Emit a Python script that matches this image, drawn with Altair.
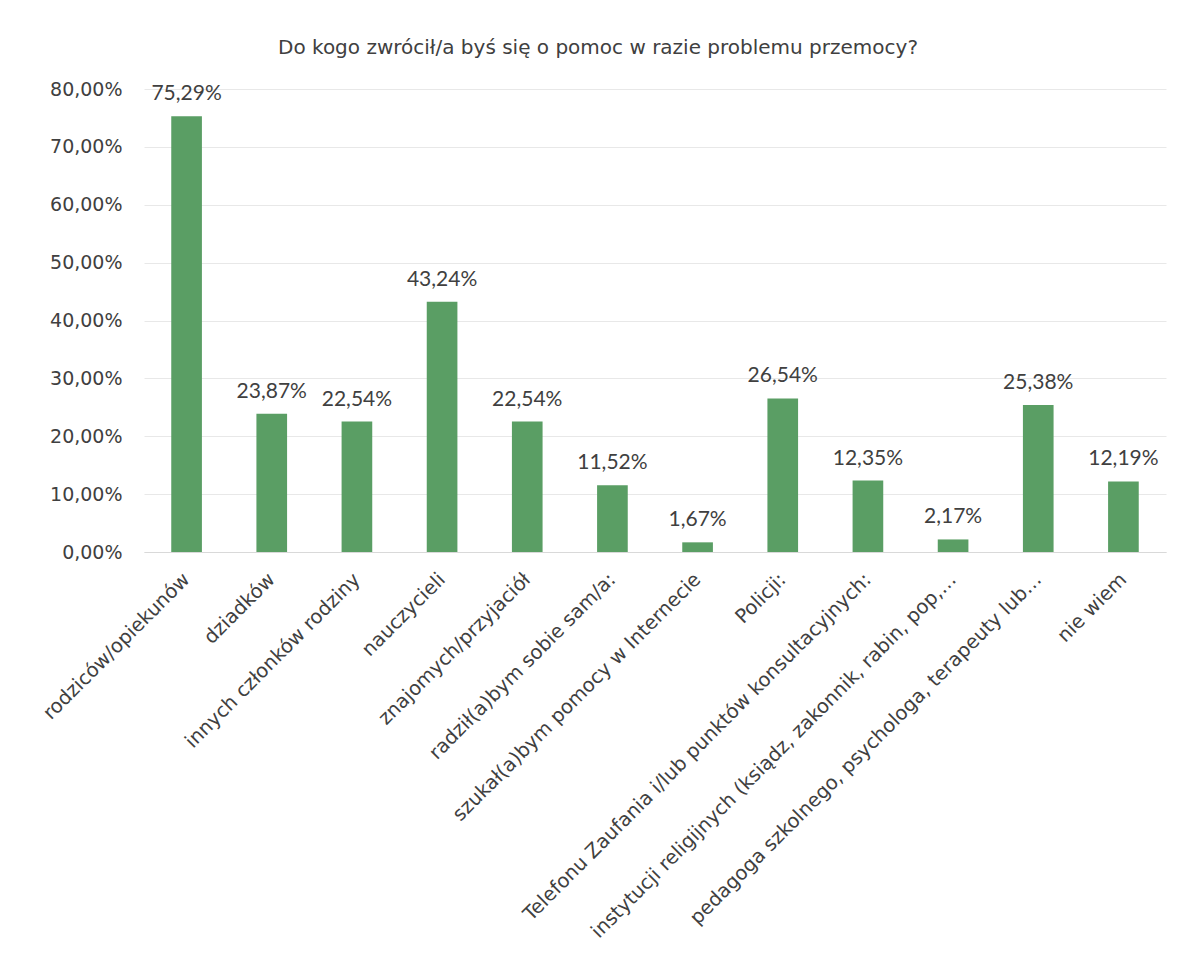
import altair as alt
import pandas as pd

categories = [
    "rodziców/opiekunów",
    "dziadków",
    "innych członków rodziny",
    "nauczycieli",
    "znajomych/przyjaciół",
    "radził(a)bym sobie sam/a:",
    "szukał(a)bym pomocy w Internecie",
    "Policji:",
    "Telefonu Zaufania i/lub punktów konsultacyjnych:",
    "instytucji religijnych (ksiądz, zakonnik, rabin, pop,…",
    "pedagoga szkolnego, psychologa, terapeuty lub…",
    "nie wiem",
]
values = [75.29, 23.87, 22.54, 43.24, 22.54, 11.52, 1.67, 26.54, 12.35, 2.17, 25.38, 12.19]
title_text = "Do kogo zwrócił/a byś się o pomoc w razie problemu przemocy?"

df = pd.DataFrame({"cat": categories, "val": values})
df["label"] = [f"{v:.2f}".replace(".", ",") + "%" for v in values]

TEXT = "#404040"
GREEN = "#5a9e64"

x = alt.X(
    "cat:N",
    sort=categories,
    title=None,
    scale=alt.Scale(paddingInner=0.64, paddingOuter=0.32),
    axis=alt.Axis(
        labelAngle=-45,
        labelAlign="right",
        labelBaseline="middle",
        labelPadding=24,
        labelFont="DejaVu Sans",
        labelFontSize=19.5,
        labelColor=TEXT,
        labelLimit=700,
        ticks=False,
        domainColor="#d9d9d9",
        domainWidth=1,
        grid=False,
    ),
)
y = alt.Y(
    "val:Q",
    title=None,
    scale=alt.Scale(domain=[0, 80], nice=False),
    axis=alt.Axis(
        values=[0, 10, 20, 30, 40, 50, 60, 70, 80],
        labelExpr="replace(format(datum.value, '.2f'), '.', ',') + '%'",
        labelFont="DejaVu Sans",
        labelFontSize=19,
        labelColor=TEXT,
        labelPadding=22,
        ticks=False,
        domain=False,
        gridColor="#e8e8e8",
        gridWidth=1,
    ),
)

bars = alt.Chart(df).mark_bar(color=GREEN).encode(x=x, y=y)
labels = alt.Chart(df).mark_text(
    font="Lato", fontSize=21, color=TEXT, baseline="alphabetic", dy=-16
).encode(x=alt.X("cat:N", sort=categories), y="val:Q", text="label:N")

chart = (
    (bars + labels)
    .properties(
        width=1022,
        height=463,
        background="white",
        title=alt.TitleParams(
            title_text,
            font="DejaVu Sans",
            fontSize=20,
            fontWeight="normal",
            color=TEXT,
            anchor="middle",
            dx=-57,
            offset=22,
        ),
        autosize=alt.AutoSizeParams(type="none"),
        padding={"left": 136, "top": 81, "right": 9, "bottom": 400},
    )
    .configure_view(strokeWidth=0, stroke="transparent")
)

chart.save("out.html", embed_options={"renderer": "svg", "actions": False})
